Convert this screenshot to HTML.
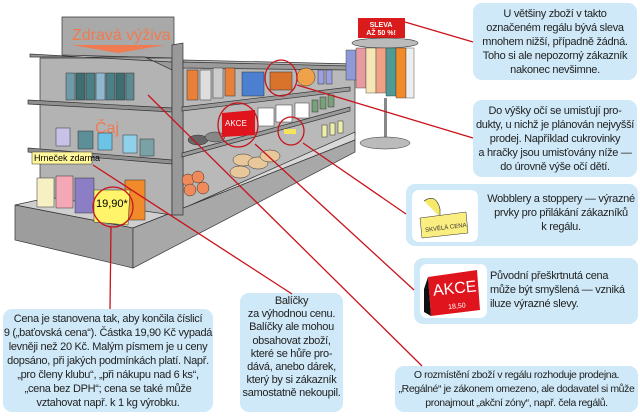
<!DOCTYPE html>
<html><head><meta charset="utf-8"><style>
body{margin:0;width:640px;height:416px;background:#fff;position:relative;overflow:hidden;font-family:"Liberation Sans",sans-serif}
svg{position:absolute;left:0;top:0}
.b{position:absolute;background:#cfe9f8;border-radius:9px;font-size:11px;line-height:14px;color:#222;text-align:center;letter-spacing:-0.3px;box-sizing:border-box;white-space:nowrap}
.w{position:absolute;background:#fff;border-radius:7px}
</style></head><body>
<div class="b" style="left:473px;top:3px;width:164px;height:77px;padding-top:4px">U většiny zboží v takto<br>označeném regálu bývá sleva<br>mnohem nižší, případně žádná.<br>Toho si ale nepozorný zákazník<br>nakonec nevšimne.</div>
<div class="b" style="left:473px;top:100px;width:164px;height:77px;padding-top:4px">Do výšky očí se umisťují pro-<br>dukty, u nichž je plánován nejvyšší<br>prodej. Například cukrovinky<br>a hračky jsou umisťovány níže —<br>do úrovně výše očí dětí.</div>
<div class="b" style="left:406px;top:184px;width:232px;height:62px;padding:8px 0 0 78px">Wobblery a stoppery — výrazné<br>prvky pro přilákání zákazníků<br>k regálu.</div>
<div class="w" style="left:412px;top:190px;width:66px;height:52px"></div>
<div class="b" style="left:414px;top:258px;width:224px;height:66px;padding:11px 0 0 76px;text-align:left">Původní přeškrtnutá cena<br>může být smyšlená — vzniká<br>iluze výrazné slevy.</div>
<div class="w" style="left:420px;top:264px;width:67px;height:54px"></div>
<div class="b" style="left:395px;top:366px;width:243px;height:46px;padding-top:2px;font-size:10.5px;letter-spacing:-0.4px">O rozmístění zboží v regálu rozhoduje prodejna.<br>„Regálné“ je zákonem omezeno, ale dodavatel si může<br>pronajmout „akční zóny“, např. čela regálů.</div>
<div class="b" style="left:3px;top:309px;width:210px;height:103px;padding-top:3px">Cena je stanovena tak, aby končila číslicí<br>9 („baťovská cena“). Částka 19,90 Kč vypadá<br>levněji než 20 Kč. Malým písmem je u ceny<br>dopsáno, při jakých podmínkách platí. Např.<br>„pro členy klubu“, „při nákupu nad 6 ks“,<br>„cena bez DPH“; cena se také může<br>vztahovat např. k 1 kg výrobku.</div>
<div class="b" style="left:240px;top:293px;width:103px;height:119px;padding-top:2px;line-height:13.2px">Balíčky<br>za výhodnou cenu.<br>Balíčky ale mohou<br>obsahovat zboží,<br>které se hůře pro-<br>dává, anebo dárek,<br>který by si zákazník<br>samostatně nekoupil.</div>
<svg width="640" height="416" viewBox="0 0 640 416">
<g stroke="#333" stroke-width="0.7">
<polygon points="183,60 355,64 355,135 183,215" fill="#b9b9b9"/>
<polygon points="15,205 70,193 175,212 133,228" fill="#cfcfcf"/>
<polygon points="175,212 355,132 355,140 133,228" fill="#d8d8d8"/>
<polygon points="15,205 133,228 133,268 15,240" fill="#9d9d9d"/>
<polygon points="133,228 355,140 355,152 133,268" fill="#a8a8a8"/>
<polygon points="40,58 172,58 172,215 40,196" fill="#b3b3b3"/>
<polygon points="62,17 174,17 174,58 62,55" fill="#a9a9a9"/>
<polygon points="30,57 145,57 172,70 172,62 30,54" fill="#9a9a9a"/>
<polygon points="28,100 172,108 172,112 28,104" fill="#8f8f8f"/>
<polygon points="28,148 172,160 172,164 28,152" fill="#8f8f8f"/>
<polygon points="172,45 183,43 183,215 172,215" fill="#999"/>
<polygon points="183,62 350,66 350,70 183,68" fill="#9a9a9a"/>
<polygon points="182,107 350,87 350,91 182,111" fill="#9a9a9a"/>
<polygon points="182,153 350,107 350,111 182,157" fill="#9a9a9a"/>
</g>
<text x="72" y="40" font-size="16" fill="#f07b50" font-family="Liberation Sans">Zdravá výživa</text>
<polygon points="72,45 165,45 118,53" fill="#f07b50"/>
<text x="95" y="133" font-size="16" fill="#f07b50" font-family="Liberation Sans">Čaj</text>
<g stroke="#333" stroke-width="0.5">
<rect x="66" y="73" width="9" height="27" fill="#6f9aa7"/><rect x="76" y="73" width="9" height="27" fill="#3f6e72"/><rect x="86" y="73" width="9" height="27" fill="#4c7f86"/><rect x="96" y="73" width="9" height="27" fill="#8fb8cf"/><rect x="106" y="73" width="9" height="27" fill="#4c7f86"/><rect x="116" y="73" width="9" height="27" fill="#3f6e72"/><rect x="126" y="73" width="8" height="27" fill="#5d8a90"/>
<rect x="56" y="128" width="14" height="18" fill="#c9c2e8"/><rect x="78" y="131" width="15" height="18" fill="#5d9096"/><rect x="98" y="133" width="14" height="17" fill="#6cc3e6"/><rect x="123" y="135" width="14" height="18" fill="#8fd0ea"/><rect x="140" y="139" width="14" height="17" fill="#7aa2a6"/>
<rect x="37" y="178" width="17" height="29" fill="#f6f0c4"/><rect x="56" y="176" width="17" height="32" fill="#f4a7b4"/><rect x="75" y="178" width="19" height="35" fill="#8b7ec5"/><rect x="125" y="180" width="20" height="40" fill="#f08a2a"/>
<rect x="187" y="70" width="11" height="30" fill="#e8803a"/><rect x="200" y="70" width="11" height="30" fill="#ddd"/><rect x="213" y="68" width="10" height="30" fill="#ccc"/><rect x="225" y="68" width="10" height="28" fill="#e8803a"/>
<rect x="242" y="72" width="22" height="24" fill="#4d7fd0"/><rect x="270" y="72" width="22" height="18" fill="#d9722a"/><circle cx="306" cy="77" r="9" fill="#f0a24a"/>
<rect x="318" y="70" width="6" height="14" fill="#9ba0e0"/><rect x="326" y="70" width="6" height="14" fill="#9ba0e0"/>
<rect x="258" y="108" width="16" height="18" fill="#fff"/><rect x="276" y="105" width="16" height="17" fill="#fff"/><rect x="295" y="103" width="14" height="15" fill="#fff"/>
<rect x="312" y="100" width="6" height="12" fill="#7aa07a"/><rect x="320" y="97" width="6" height="12" fill="#7aa07a"/><rect x="328" y="95" width="6" height="12" fill="#7aa07a"/>
<rect x="322" y="125" width="5" height="12" fill="#eeeeaa"/><rect x="330" y="123" width="5" height="12" fill="#eeeeaa"/><rect x="338" y="121" width="5" height="12" fill="#eeeeaa"/>
<ellipse cx="198" cy="140" rx="10" ry="5" fill="#666"/><ellipse cx="215" cy="137" rx="10" ry="5" fill="#888"/>
<ellipse cx="243" cy="160" rx="10" ry="6" fill="#e8c79b"/><ellipse cx="258" cy="163" rx="10" ry="6" fill="#e8c79b"/><ellipse cx="270" cy="156" rx="10" ry="6" fill="#e8c79b"/><ellipse cx="240" cy="172" rx="10" ry="6" fill="#e8c79b"/>
<circle cx="188" cy="180" r="6" fill="#f08a5a"/><circle cx="198" cy="177" r="6" fill="#f08a5a"/><circle cx="190" cy="190" r="6" fill="#f08a5a"/><circle cx="203" cy="188" r="6" fill="#f08a5a"/>
</g>
<rect x="32" y="152" width="60" height="12" fill="#fff79a" stroke="#333" stroke-width="0.5"/>
<text x="34" y="161" font-size="9" fill="#000">Hrneček zdarma</text>
<polygon points="94,190 130,190 128,225 94,222" fill="#fff46a" stroke="#333" stroke-width="0.5"/>
<text x="96" y="207" font-size="11" fill="#000">19,90*</text>
<polygon points="222,113 255,110 255,135 222,137" fill="#e0141c"/>
<text x="225" y="126" font-size="8" fill="#fff">AKCE</text>
<rect x="284" y="129" width="12" height="5" fill="#f5e35a"/>
<rect x="358" y="18" width="47" height="20" fill="#d91b1b"/>
<text x="381" y="27" font-size="7" fill="#fff" text-anchor="middle" font-weight="bold">SLEVA</text>
<text x="381" y="35" font-size="7" fill="#fff" text-anchor="middle" font-weight="bold">AŽ 50 %!</text>
<ellipse cx="385" cy="43" rx="33" ry="5" fill="#bbb" stroke="#333" stroke-width="0.6"/>
<g stroke="#333" stroke-width="0.4">
<rect x="346" y="50" width="10" height="30" fill="#8e9ad6"/><rect x="356" y="48" width="10" height="40" fill="#e79aa0"/><rect x="366" y="48" width="10" height="45" fill="#f7e6b5"/><rect x="376" y="48" width="10" height="45" fill="#f0a084"/><rect x="386" y="48" width="10" height="48" fill="#4f9a94"/><rect x="396" y="48" width="10" height="50" fill="#f08a2a"/><rect x="406" y="48" width="8" height="50" fill="#eee"/>
</g>
<rect x="384" y="98" width="3" height="42" fill="#888"/>
<ellipse cx="385" cy="143" rx="25" ry="6" fill="#bbb" stroke="#333" stroke-width="0.5"/>
<g stroke="#c8141c" stroke-width="1.3" fill="none">
<circle cx="113" cy="207" r="20"/><ellipse cx="238" cy="125" rx="20" ry="22"/><ellipse cx="281" cy="78" rx="16" ry="18"/><ellipse cx="291" cy="131" rx="13" ry="14"/>
<line x1="111" y1="227" x2="110" y2="309"/>
<line x1="93" y1="165" x2="292" y2="294"/>
<line x1="148" y1="95" x2="422" y2="366"/>
<line x1="255" y1="144" x2="414" y2="290"/>
<line x1="303" y1="143" x2="406" y2="214"/>
<line x1="297" y1="85" x2="473" y2="138"/>
<line x1="405" y1="22" x2="473" y2="42"/>
</g>
<path d="M424,201 q12,-8 16,8 l0,8" stroke="#333" stroke-width="0.6" fill="#f5e96a"/>
<polygon points="420,218 466,212 468,233 422,238" fill="#fbee80" stroke="#333" stroke-width="0.5"/>
<text x="425" y="230" font-size="6" fill="#333" transform="rotate(-7 440 228)">SKVĚLÁ CENA</text>
<polygon points="428,277 477,270 480,310 431,316" fill="#e0141c"/>
<polygon points="424,289 428,277 431,316 424,312" fill="#111"/>
<text x="433" y="294" font-size="16" fill="#fff" transform="rotate(-6 450 290)">AKCE</text>
<text x="448" y="309" font-size="7" fill="#fff" transform="rotate(-6 450 305)">18,50</text>
</svg>
</body></html>
